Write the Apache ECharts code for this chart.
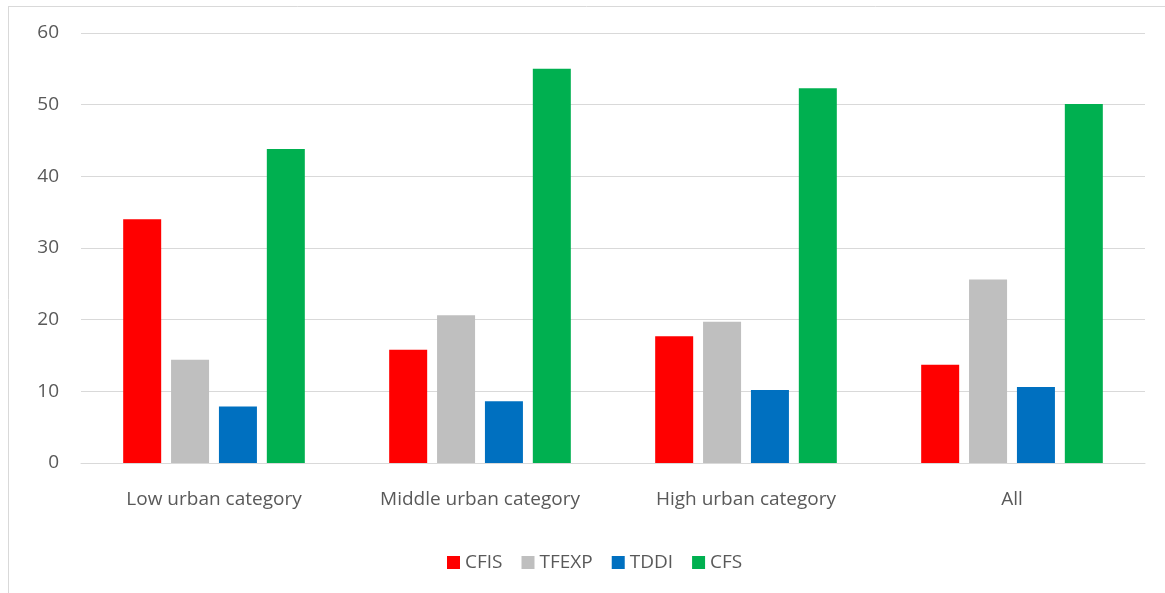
<!DOCTYPE html>
<html>
<head>
<meta charset="utf-8">
<script src="https://cdn.jsdelivr.net/npm/echarts@6/dist/echarts.min.js"></script>
<style>
  html, body { margin: 0; padding: 0; background: #fff; }
  #main { width: 1165px; height: 593px; }
</style>
</head>
<body>
<div id="main"></div>
<script>
// data
var categories = ['Low urban category', 'Middle urban category', 'High urban category', 'All'];
var cfis  = [34.0, 15.8, 17.7, 13.7];
var tfexp = [14.4, 20.6, 19.7, 25.6];
var tddi  = [7.9, 8.6, 10.2, 10.6];
var cfs   = [43.8, 55.0, 52.3, 50.1];
var yTicks = [0, 10, 20, 30, 40, 50, 60];

var txt = '#595959';
var font = 'Open Sans';

function bar(name, data, color) {
    return {
        name: name,
        type: 'bar',
        data: data,
        barWidth: 38,
        barGap: '26%',
        itemStyle: { color: color }
    };
}

var chart = echarts.init(document.getElementById('main'));
chart.setOption({
    animation: false,
    textStyle: { fontFamily: font },
    graphic: [
        { type: 'line', shape: { x1: 8, y1: 6.5, x2: 1165, y2: 6.5 }, style: { stroke: '#d9d9d9', lineWidth: 1 } },
        { type: 'line', shape: { x1: 8.5, y1: 6, x2: 8.5, y2: 593 }, style: { stroke: '#d9d9d9', lineWidth: 1 } }
    ],
    grid: { left: 81, right: 20, top: 33, bottom: 130, containLabel: false },
    legend: {
        top: 548,
        left: 442,
        itemWidth: 13,
        itemHeight: 13,
        itemGap: 19,
        icon: 'rect',
        textStyle: { color: txt, fontSize: 19, fontFamily: font },
        data: ['CFIS', 'TFEXP', 'TDDI', 'CFS']
    },
    xAxis: {
        type: 'category',
        data: categories,
        axisLine: { lineStyle: { color: '#d9d9d9', width: 1 } },
        axisTick: { show: false },
        axisLabel: { color: txt, fontSize: 19, margin: 27, fontFamily: font }
    },
    yAxis: {
        type: 'value',
        min: yTicks[0],
        max: yTicks[yTicks.length - 1],
        interval: 10,
        axisLine: { show: false },
        axisTick: { show: false },
        splitLine: { lineStyle: { color: '#d9d9d9', width: 1 } },
        axisLabel: { color: txt, fontSize: 19, margin: 22, fontFamily: font }
    },
    series: [
        bar('CFIS', cfis, '#ff0000'),
        bar('TFEXP', tfexp, '#bfbfbf'),
        bar('TDDI', tddi, '#0070c0'),
        bar('CFS', cfs, '#00b050')
    ]
});
</script>
</body>
</html>
